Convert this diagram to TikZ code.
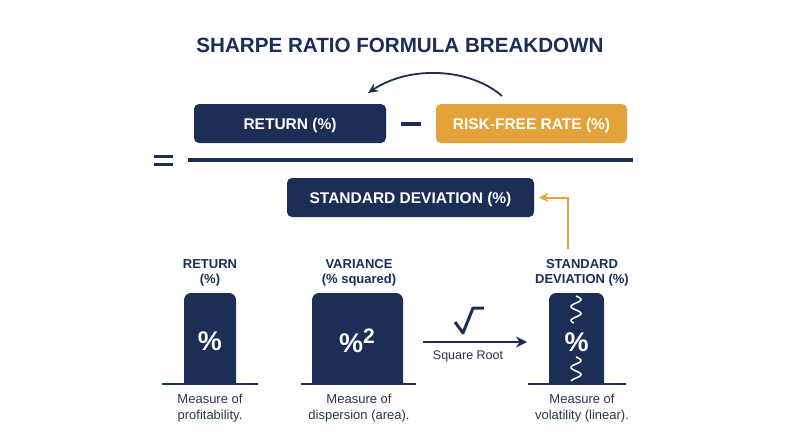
\documentclass[tikz,border=0pt]{standalone}
\usepackage{fontspec}
\setmainfont{Liberation Sans}
\usetikzlibrary{arrows.meta}
\definecolor{navy}{HTML}{1C2D56}
\definecolor{gold}{HTML}{E4A23A}
\definecolor{txt}{HTML}{2A3550}
\tikzset{
  fbox/.style={fill=navy, rounded corners=5pt, text=white, font=\bfseries\fontsize{15.5}{17}\selectfont, inner sep=0pt, text height=11.1pt, text depth=0pt},
  lbl/.style={text=navy, font=\bfseries\fontsize{13}{15.5}\selectfont, align=center},
  desc/.style={text=txt, font=\fontsize{13}{15.5}\selectfont, align=center},
  bar/.style={fill=navy, rounded corners=7pt},
  base/.style={draw=navy, line width=2pt},
  sym/.style={text=white, font=\bfseries\fontsize{27}{30}\selectfont},
  wave/.style={draw=white, line width=1.5pt}
}
\begin{document}
\begin{tikzpicture}[x=1pt,y=-1pt]
\useasboundingbox[fill=white] (0,0) rectangle (800,447);
% title
\node[text=navy, font=\bfseries\fontsize{20.6}{24}\selectfont] (title) at (400,45) {SHARPE RATIO FORMULA BREAKDOWN};
% numerator
\node[fbox, minimum width=192pt, minimum height=39pt] (ret) at (290,123.5) {RETURN (\%)};
\node[fbox, fill=gold, minimum width=191pt, minimum height=39pt] (rf) at (531.5,123.5) {RISK-FREE RATE (\%)};
\node[fill=navy, minimum width=20pt, minimum height=4pt, inner sep=0pt] (minus) at (411,124) {};
\coordinate (cs) at (502,96);
\coordinate (ce) at (368,93);
\draw[navy, line width=1.8pt, -{Stealth[length=10pt,width=9pt]}] (cs) .. controls (470,68) and (410,65) .. (ce);
% equals and fraction line
\node[fill=navy, minimum width=19pt, minimum height=3.5pt, inner sep=0pt] (eq1) at (163.5,156.5) {};
\node[fill=navy, minimum width=19pt, minimum height=3.5pt, inner sep=0pt] (eq2) at (163.5,164.5) {};
\coordinate (fl) at (188,160);
\coordinate (fr) at (633,160);
\draw[navy, line width=3.5pt] (fl) -- (fr);
% denominator
\node[fbox, minimum width=247pt, minimum height=39pt] (sd) at (410.5,197.5) {STANDARD DEVIATION (\%)};
\coordinate (ostart) at (568,249);
\draw[gold, line width=2pt, -{Stealth[length=9pt,width=9pt]}] (ostart) |- ([xshift=5pt]sd.east);
% bottom: return
\node[lbl] (lret) at (210,273) {RETURN\\(\%)};
\fill[bar] (184,384) -- (184,293) -- (236,293) -- (236,384);
\node[sym] (pret) at (210,341) {\%};
\coordinate (b1l) at (162,384); \coordinate (b1r) at (258,384);
\draw[base] (b1l) -- (b1r);
\node[desc] (dret) at (210,408) {Measure of\\profitability.};
% variance
\node[lbl] (lvar) at (359,273) {VARIANCE\\(\% squared)};
\fill[bar] (312,384) -- (312,293) -- (403,293) -- (403,384);
\node[sym] (pvar) at (357,341) {\%\raisebox{9pt}{\fontsize{21}{24}\selectfont 2}};
\coordinate (b2l) at (301,384); \coordinate (b2r) at (416,384);
\draw[base] (b2l) -- (b2r);
\node[desc] (dvar) at (359,408) {Measure of\\dispersion (area).};
% arrow
\coordinate (al) at (423,342); \coordinate (ar) at (527,342);
\draw[navy, line width=2pt, -{Stealth[length=11pt,width=11pt]}] (al) -- (ar);
\draw[navy, line width=3pt, line join=round] (455,322) -- (463,333) -- (473,308) -- (484,308);
\node[text=txt, font=\fontsize{12.5}{15}\selectfont] (sqr) at (468,356) {Square Root};
% std dev
\node[lbl] (lsd) at (582,273) {STANDARD\\DEVIATION (\%)};
\fill[bar] (549,384) -- (549,293) -- (604,293) -- (604,384);
\node[sym] (psd) at (576.5,342) {\%};
\draw[wave] plot[domain=0:27, samples=60, smooth] ({576+5*sin(\x*360/14)}, {296+\x});
\draw[wave] plot[domain=0:24, samples=60, smooth] ({576+5*sin(\x*360/14)}, {357+\x});
\coordinate (b3l) at (528,384); \coordinate (b3r) at (626,384);
\draw[base] (b3l) -- (b3r);
\node[desc] (dsd) at (582,408) {Measure of\\volatility (linear).};
\end{tikzpicture}
\end{document}
